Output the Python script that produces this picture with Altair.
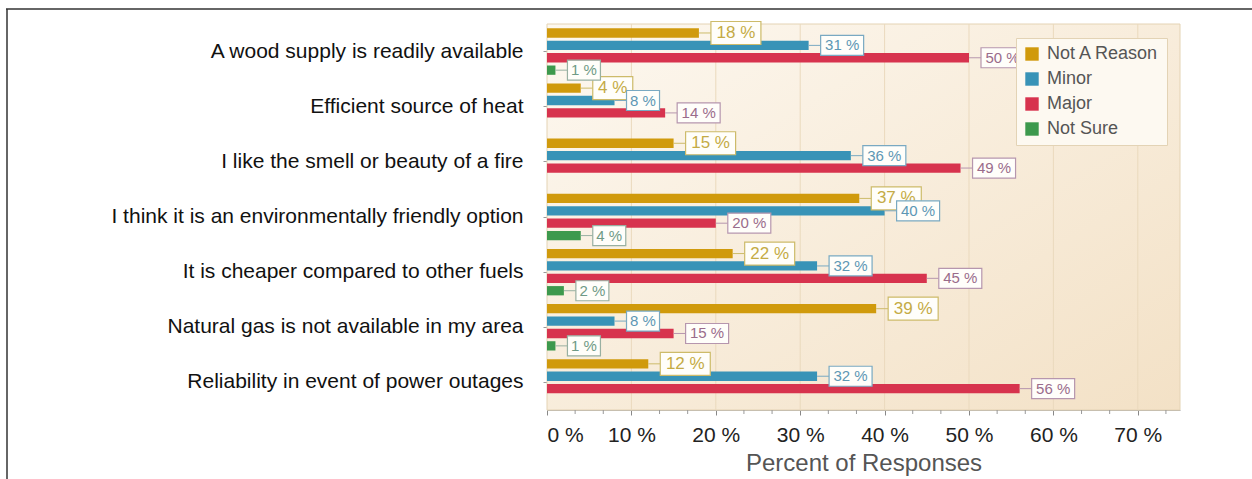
import altair as alt
import pandas as pd

# Survey results: reasons for burning wood, share of responses per category
categories = [
    "A wood supply is readily available",
    "Efficient source of heat",
    "I like the smell or beauty of a fire",
    "I think it is an environmentally friendly option",
    "It is cheaper compared to other fuels",
    "Natural gas is not available in my area",
    "Reliability in event of power outages",
]
series = ["Not A Reason", "Minor", "Major", "Not Sure"]
not_a_reason = [18, 4, 15, 37, 22, 39, 12]
minor = [31, 8, 36, 40, 32, 8, 32]
major = [50, 14, 49, 20, 45, 15, 56]
not_sure = [1, None, None, 4, 2, 1, None]
x_ticks = [0, 10, 20, 30, 40, 50, 60, 70]

bar_colors = ["#d09a0c", "#3893b7", "#d7334e", "#3d994d"]
label_text = ["#c4ab45", "#5d97b4", "#9a6c8b", "#6f9a86"]
label_border = ["#cdbb6a", "#79a9c2", "#b696ae", "#98b0a2"]

rows = []
for s, vals in zip(series, [not_a_reason, minor, major, not_sure]):
    for c, v in zip(categories, vals):
        if v is not None:
            rows.append({"category": c, "series": s, "value": v, "label": f"{v} %"})
df = pd.DataFrame(rows)

# minor tick marks: two between each pair of labelled ticks
minor_ticks = [t + k * 10 / 3 for t in x_ticks for k in (1, 2) if t + k * 10 / 3 < 75]

W, H = 633, 386

y_enc = alt.Y(
    "category:N",
    sort=categories,
    scale=alt.Scale(domain=categories, paddingInner=0, paddingOuter=0),
    axis=alt.Axis(
        title=None, labelFontSize=21, labelColor="#111", labelPadding=20,
        tickSize=4, tickColor="#999", domainColor="#999", labelLimit=600,
    ),
)
yoff_enc = alt.YOffset(
    "series:N", sort=series,
    scale=alt.Scale(domain=series, paddingInner=0.25, paddingOuter=0.35),
)
x_scale = alt.Scale(domain=[0, 75], nice=False, zero=True)
x_enc = alt.X(
    "value:Q",
    scale=x_scale,
    axis=alt.Axis(
        values=x_ticks, labelExpr="datum.value + ' %'", title="Percent of Responses",
        grid=False, labelFontSize=21, labelColor="#222", titleFontSize=24,
        titleColor="#555", titleFontWeight="normal", titlePadding=6,
        tickColor="#888", domainColor="#aaa", tickSize=5, labelPadding=9,
    ),
)

base = alt.Chart(df)

# Plot-area background with a soft cream-to-peach gradient
background = alt.Chart(alt.Data(values=[{"a": 1}])).mark_rect(
    fill=alt.Gradient(
        gradient="linear", x1=0, y1=0, x2=1, y2=1,
        stops=[alt.GradientStop(color="#fdf8f0", offset=0),
               alt.GradientStop(color="#f3e1c6", offset=1)],
    ),
    stroke="#e4d3b4", strokeWidth=1,
).encode(x=alt.datum(0, scale=x_scale), x2=alt.datum(75), y=alt.value(0), y2=alt.value(H))

grid = alt.Chart(pd.DataFrame({"t": x_ticks[1:]})).mark_rule(
    color="#ead9bd", strokeWidth=1
).encode(x=alt.X("t:Q", scale=x_scale), y=alt.value(0), y2=alt.value(H))

minor_rules = alt.Chart(pd.DataFrame({"t": minor_ticks})).mark_rule(
    color="#999", strokeWidth=1
).encode(x=alt.X("t:Q", scale=x_scale), y=alt.value(H), y2=alt.value(H + 4))

bars = base.mark_bar().encode(
    x=x_enc,
    y=y_enc,
    yOffset=yoff_enc,
    color=alt.Color(
        "series:N", sort=series,
        scale=alt.Scale(domain=series, range=bar_colors),
        legend=alt.Legend(
            title=None, orient="none", legendX=469, legendY=14,
            fillColor="#fdf9f1", strokeColor="#e3d3b5", padding=7,
            symbolType="square", symbolSize=180, symbolStrokeWidth=0,
            labelFontSize=18, labelColor="#555", rowPadding=7, labelOffset=6,
        ),
    ),
)

layers = [background, grid, minor_rules, bars]

gap = 12
for i, s in enumerate(series):
    big = i == 0
    fsize = 17 if big else 15
    bh = 23 if big else 20
    sub = base.transform_filter(alt.datum.series == s)
    layers.append(
        sub.mark_rule(color=label_border[i], strokeWidth=1, x2Offset=gap).encode(
            x="value:Q", x2="value:Q", y=y_enc, yOffset=yoff_enc
        )
    )
    for two_digit, w in [(False, 40 if big else 33), (True, 50 if big else 43)]:
        cond = alt.datum.value >= 10 if two_digit else alt.datum.value < 10
        part = sub.transform_filter(cond)
        layers.append(
            part.mark_bar(
                height=bh, fill="#fffefa", stroke=label_border[i], strokeWidth=1.2,
                xOffset=gap, x2Offset=gap + w,
            ).encode(x="value:Q", x2="value:Q", y=y_enc, yOffset=yoff_enc)
        )
        layers.append(
            part.mark_text(
                align="center", baseline="middle", dx=gap + w / 2,
                fontSize=fsize, color=label_text[i],
            ).encode(x="value:Q", y=y_enc, yOffset=yoff_enc, text="label:N")
        )

# Thin frame around the figure
frame_src = alt.Chart(alt.Data(values=[{"a": 1}]))
frame_top = frame_src.mark_rule(color="#333", strokeWidth=1.5).encode(
    x=alt.value(-541), x2=alt.value(706), y=alt.value(-15)
)
frame_left = frame_src.mark_rule(color="#333", strokeWidth=1.5).encode(
    x=alt.value(-540), y=alt.value(-15), y2=alt.value(460)
)
layers += [frame_top, frame_left]

chart = alt.layer(*layers).properties(
    width=W, height=H,
    autosize=alt.AutoSizeParams(type="none"),
    padding={"left": 547, "top": 24, "right": 72, "bottom": 69},
).configure(font="Liberation Sans").configure_view(stroke=None)

chart.save("out.html", embed_options={"renderer": "svg", "actions": False})
